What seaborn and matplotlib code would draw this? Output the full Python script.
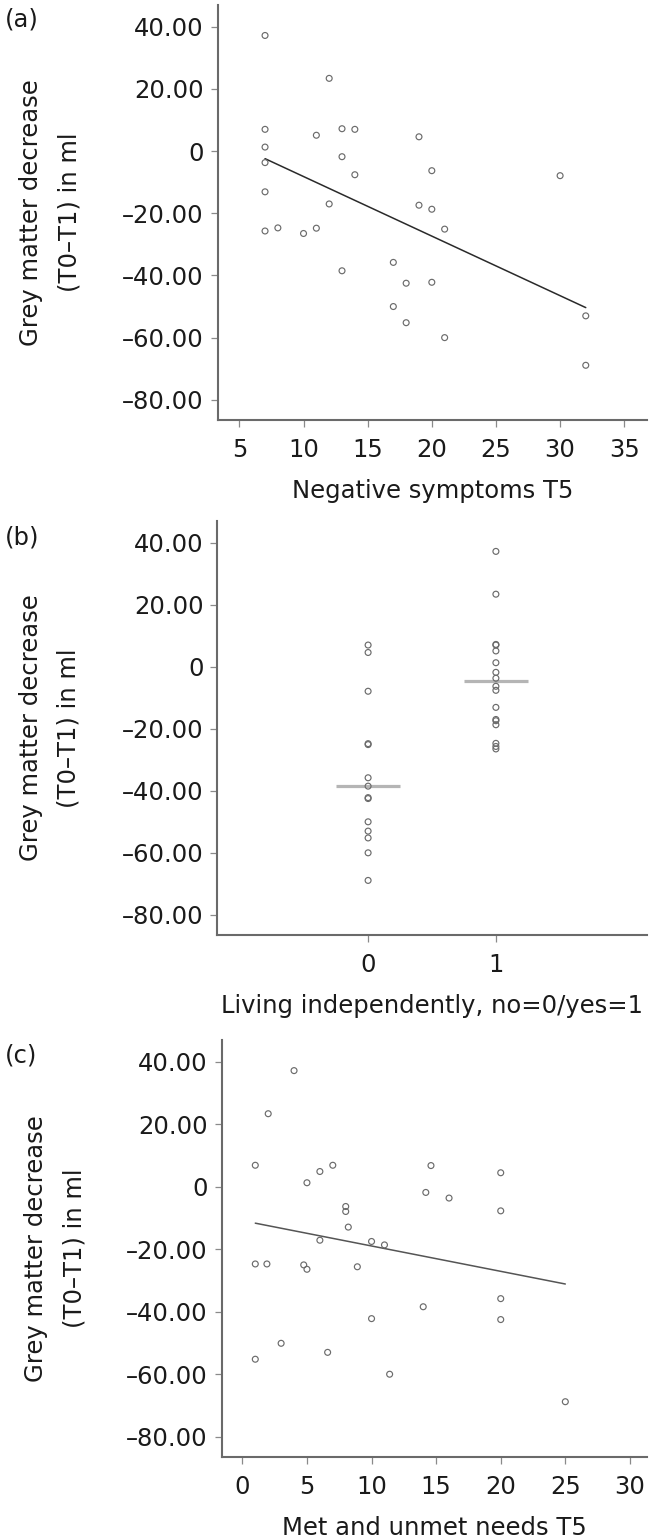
import numpy as np
import pandas as pd
import matplotlib
matplotlib.use("Agg")
import matplotlib.pyplot as plt
from matplotlib.ticker import FuncFormatter
import seaborn as sns

# ---------------- data ----------------
# (a) Negative symptoms T5 vs grey matter decrease
neg_symptoms = [7, 12, 7, 13, 14, 11, 19, 7, 13, 7, 20, 14, 30, 7, 12, 19, 20,
                7, 8, 10, 11, 21, 17, 13, 18, 20, 17, 18, 21, 32, 32]
gm_decrease_a = [37.2, 23.4, 7.0, 7.2, 7.0, 5.1, 4.6, 1.3, -1.8, -3.7, -6.3, -7.6,
                 -7.9, -13.1, -17.0, -17.4, -18.7, -25.7, -24.7, -26.5, -24.8,
                 -25.1, -35.8, -38.5, -42.5, -42.2, -50.0, -55.2, -60.0, -53.0, -68.9]

# (b) Living independently (0 = no, 1 = yes)
living_indep = [0] * 14 + [1] * 17
gm_decrease_b = [7.0, 4.6, -7.9, -24.8, -25.1, -35.8, -38.5, -42.2, -42.5, -50.0,
                 -53.0, -55.2, -60.0, -68.9,
                 37.2, 23.4, 7.0, 7.2, 5.1, 1.3, -1.8, -3.7, -6.3, -7.6, -13.1,
                 -17.0, -17.4, -18.7, -24.7, -25.7, -26.5]
group_levels = [0, 1]
group_line_values = [-38.6, -4.6]

# (c) Met and unmet needs T5
needs = [4.0, 2.0, 1.0, 7.0, 6.0, 14.6, 20.0, 5.0, 14.2, 16.0, 8.0, 8.0, 20.0, 8.2,
         6.0, 10.0, 11.0, 1.0, 1.9, 4.75, 5.0, 8.9, 20.0, 14.0, 10.0, 20.0, 3.0,
         6.6, 1.0, 11.4, 25.0]
gm_decrease_c = [37.2, 23.4, 6.9, 6.9, 4.9, 6.8, 4.5, 1.3, -1.8, -3.6, -6.3, -7.9,
                 -7.7, -12.9, -17.1, -17.5, -18.6, -24.7, -24.7, -25.0, -26.4,
                 -25.6, -35.8, -38.4, -42.2, -42.5, -50.1, -53.0, -55.2, -60.0, -68.8]

y_ticks = [-80, -60, -40, -20, 0, 20, 40]
xticks_a = [5, 10, 15, 20, 25, 30, 35]
xticks_b = [0, 1]
xticks_c = [0, 5, 10, 15, 20, 25, 30]

ylabel = "Grey matter decrease\n(T0\u2013T1) in ml"
xlabel_a = "Negative symptoms T5"
xlabel_b = "Living independently, no=0/yes=1"
xlabel_c = "Met and unmet needs T5"

df_a = pd.DataFrame({"x": neg_symptoms, "y": gm_decrease_a})
df_b = pd.DataFrame({"x": living_indep, "y": gm_decrease_b})
df_c = pd.DataFrame({"x": needs, "y": gm_decrease_c})
df_lines = pd.DataFrame({"x": group_levels, "y": group_line_values})

# ---------------- style ----------------
sns.set_style("ticks")
plt.rcParams["font.family"] = ["DejaVu Sans"]

W, H = 655, 1540
fig = plt.figure(figsize=(W / 100, H / 100), dpi=100)

FS = 17.5
SPINE = "#6a6a6a"
PT_EDGE = "#6b6b6b"
TXT = "#1a1a1a"


def yfmt(v, pos):
    if abs(v) < 1e-9:
        return "0"
    s = "%.2f" % abs(v)
    return ("\u2013" + s) if v < 0 else s


def px_axes(left, top, right, bottom):
    return fig.add_axes([left / W, 1 - bottom / H, (right - left) / W, (bottom - top) / H])


def style_axes(ax, xticks, xlim, xlabel):
    ax.set_ylim(-86.5, 47)
    ax.set_xlim(*xlim)
    ax.set_yticks(y_ticks)
    ax.set_xticks(xticks)
    ax.yaxis.set_major_formatter(FuncFormatter(yfmt))
    sns.despine(ax=ax)
    for s in ("left", "bottom"):
        ax.spines[s].set_color(SPINE)
        ax.spines[s].set_linewidth(1.5)
    ax.tick_params(axis="both", direction="out", length=5, width=0.9,
                   color="#8a8a8a", labelsize=FS, labelcolor=TXT)
    ax.tick_params(axis="y", pad=5)
    ax.tick_params(axis="x", pad=8)
    ax.set_xlabel(xlabel, fontsize=FS, color=TXT, labelpad=12)
    ax.set_ylabel(ylabel, fontsize=FS, color=TXT, linespacing=1.75)
    ax.yaxis.set_label_coords(-0.318, 0.5)


scatter_kw = dict(s=18, facecolor="none", edgecolor=PT_EDGE, linewidth=0.85, zorder=3)

# (a)
ax_a = px_axes(217.7, 5, 646.7, 420)
sns.scatterplot(data=df_a, x="x", y="y", ax=ax_a, **scatter_kw)
sns.regplot(data=df_a, x="x", y="y", ax=ax_a, scatter=False, ci=None, truncate=True,
            line_kws=dict(color="#2a2a2a", linewidth=1.1))
style_axes(ax_a, xticks_a, (3.31, 36.75), xlabel_a)

# (b)
ax_b = px_axes(217.3, 521, 646.7, 935)
sns.scatterplot(data=df_lines, x="x", y="y", ax=ax_b, marker="_", s=2060,
                linewidth=2.3, color="#b5b5b5", zorder=2)
sns.scatterplot(data=df_b, x="x", y="y", ax=ax_b, **scatter_kw)
style_axes(ax_b, xticks_b, (-1.18, 2.18), xlabel_b)

# (c)
ax_c = px_axes(221.7, 1040, 646.7, 1457)
sns.scatterplot(data=df_c, x="x", y="y", ax=ax_c, **scatter_kw)
sns.regplot(data=df_c, x="x", y="y", ax=ax_c, scatter=False, ci=None, truncate=True,
            line_kws=dict(color="#555555", linewidth=1.1))
style_axes(ax_c, xticks_c, (-1.6, 31.3), xlabel_c)

# panel letters
for lab, ypx in (("(a)", 20), ("(b)", 537), ("(c)", 1055)):
    fig.text(5 / W, 1 - ypx / H, lab, fontsize=FS, ha="left", va="center", color=TXT)

fig.savefig("out.png", dpi=100)
